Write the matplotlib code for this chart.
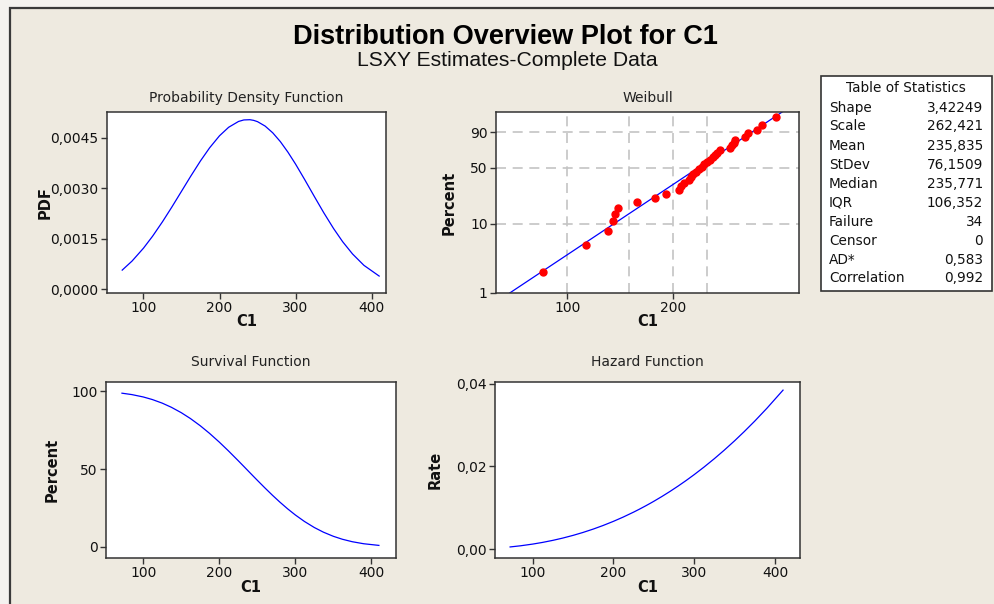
import numpy as np
import matplotlib
matplotlib.use("Agg")
import matplotlib.pyplot as plt
from matplotlib.patches import Rectangle
from matplotlib.ticker import FuncFormatter, NullLocator

# curve samples
c1_grid = [72, 85, 100, 112, 125, 137, 150, 162, 175, 187, 200, 212, 225, 232, 240,
           245, 250, 260, 270, 280, 290, 300, 312, 325, 337, 350, 362, 375, 390, 410]
pdf_vals = [0.000562, 0.000832, 0.001214, 0.001570, 0.001999, 0.002424, 0.002903,
            0.003346, 0.003807, 0.004195, 0.004552, 0.004804, 0.004977, 0.005022,
            0.005029, 0.005009, 0.004971, 0.004840, 0.004640, 0.004379, 0.004065,
            0.003712, 0.003252, 0.002738, 0.002271, 0.001798, 0.001405, 0.001041,
            0.000703, 0.000385]
surv_vals = [98.81, 97.91, 96.39, 94.72, 92.41, 89.75, 86.29, 82.54, 77.89, 73.08,
             67.39, 61.77, 55.40, 51.90, 47.87, 45.36, 42.87, 37.96, 33.21, 28.70,
             24.47, 20.58, 16.40, 12.50, 9.50, 6.86, 4.94, 3.36, 2.06, 1.00]
haz_vals = [0.000569, 0.000850, 0.001260, 0.001658, 0.002163, 0.002701, 0.003364,
            0.004054, 0.004887, 0.005739, 0.006754, 0.007778, 0.008984, 0.009677,
            0.010505, 0.011043, 0.011596, 0.012752, 0.013973, 0.015260, 0.016614,
            0.018036, 0.019834, 0.021896, 0.023906, 0.026200, 0.028433, 0.030966,
            0.034055, 0.038440]

# weibull probability plot points
c1_data = [85.0, 113.1, 131.0, 134.7, 136.8, 139.9, 158.5, 178.0, 191.0, 208.9,
           211.0, 214.5, 223.0, 225.6, 229.0, 232.6, 236.7, 242.0, 245.8, 250.0,
           255.7, 259.6, 264.0, 268.0, 273.0, 291.6, 294.8, 298.1, 301.3, 321.8,
           326.8, 347.5, 359.2, 394.7]
pct_data = [2.03, 4.94, 7.85, 10.76, 13.66, 16.57, 19.48, 22.38, 25.29, 28.20,
            31.10, 34.01, 36.92, 39.83, 42.73, 45.64, 48.55, 51.45, 54.36, 57.27,
            60.17, 63.08, 65.99, 68.90, 71.80, 74.71, 77.62, 80.52, 83.43, 86.34,
            89.24, 92.15, 95.06, 97.97]
fit_x = [68.5, 410.0]
fit_pct = [1.0, 99.0]

stat_names = ["Shape", "Scale", "Mean", "StDev", "Median", "IQR",
              "Failure", "Censor", "AD*", "Correlation"]
stat_values = ["3,42249", "262,421", "235,835", "76,1509", "235,771", "106,352",
               "34", "0", "0,583", "0,992"]

W, H = 995, 604
BG = "#EEEAE0"
BLUE = "#0000FF"
TXT = "#111111"

plt.rcParams["font.family"] = ["DejaVu Sans"]

fig = plt.figure(figsize=(W / 100, H / 100), dpi=100)
fig.patch.set_facecolor("#F4F2EF")
fig.patches.append(Rectangle((10 / W, -0.01), 1.02, 1 - 8 / H + 0.01,
                             transform=fig.transFigure, facecolor=BG,
                             edgecolor="#3a3a3a", lw=1.6, zorder=-5))


def px_axes(l, t, r, b):
    ax = fig.add_axes([l / W, 1 - b / H, (r - l) / W, (b - t) / H])
    ax.set_zorder(2)
    ax.set_facecolor("white")
    for s in ax.spines.values():
        s.set_color("#333333")
        s.set_linewidth(1.1)
    ax.tick_params(direction="out", length=4, width=1, color="#333333",
                   labelsize=10, labelcolor=TXT, pad=2)
    return ax


def comma(fmt):
    return FuncFormatter(lambda v, p: format(v, fmt).replace(".", ","))


def labels(ax, title, ylab, ty, yx, xy):
    ax.text(0.5, ty, title, transform=ax.transAxes, ha="center", va="center",
            fontsize=10, color="#222222")
    ax.set_xlabel("C1", fontsize=10.5, fontweight="bold", color=TXT, va="center")
    ax.set_ylabel(ylab, fontsize=10.5, fontweight="bold", color=TXT, va="center")
    ax.xaxis.set_label_coords(0.5, xy)
    ax.yaxis.set_label_coords(yx, 0.5)


# PDF
ax1 = px_axes(107, 112, 386, 293)
ax1.plot(c1_grid, pdf_vals, color=BLUE, lw=0.9)
ax1.set_xlim(52, 419)
ax1.set_ylim(-0.000118, 0.005258)
ax1.set_xticks([100, 200, 300, 400])
ax1.set_yticks([0, 0.0015, 0.003, 0.0045])
ax1.yaxis.set_major_formatter(comma(".4f"))
labels(ax1, "Probability Density Function", "PDF", 1.077, -0.222, -0.16)

# Weibull probability plot
ax2 = px_axes(496, 112, 799, 293)


def wfwd(p):
    p = np.clip(np.asarray(p, dtype=float), 1e-6, 99.9999)
    return np.log(-np.log(1 - p / 100))


def winv(t):
    return 100 * (1 - np.exp(-np.exp(t)))


ax2.set_xscale("log")
ax2.set_yscale("function", functions=(wfwd, winv))
ax2.set_xlim(62.6, 458)
ax2.set_ylim(1, 99)
for gx in [100, 150, 200, 250]:
    ax2.axvline(gx, color="#C4C4C4", lw=1.2, ls=(0, (6, 4)), zorder=1)
for gy in [10, 50, 90]:
    ax2.axhline(gy, color="#C4C4C4", lw=1.2, ls=(0, (6, 4)), zorder=1)
ax2.plot(fit_x, fit_pct, color=BLUE, lw=0.9, zorder=2)
ax2.plot(c1_data, pct_data, "o", color="#FF0000", ms=5, mec="#FF0000", zorder=3)
ax2.set_xticks([100, 200])
ax2.set_xticklabels(["100", "200"])
ax2.xaxis.set_minor_locator(NullLocator())
ax2.set_yticks([1, 10, 50, 90])
ax2.set_yticklabels(["1", "10", "50", "90"])
ax2.yaxis.set_minor_locator(NullLocator())
labels(ax2, "Weibull", "Percent", 1.077, -0.155, -0.16)

# Survival
ax3 = px_axes(106, 382, 396, 558)
ax3.plot(c1_grid, surv_vals, color=BLUE, lw=0.9)
ax3.set_xlim(51, 432.5)
ax3.set_ylim(-7.1, 106)
ax3.set_xticks([100, 200, 300, 400])
ax3.set_yticks([0, 50, 100])
labels(ax3, "Survival Function", "Percent", 1.114, -0.186, -0.165)

# Hazard
ax4 = px_axes(495, 382, 800, 558)
ax4.plot(c1_grid, haz_vals, color=BLUE, lw=0.9)
ax4.set_xlim(53.3, 431)
ax4.set_ylim(-0.0021, 0.0404)
ax4.set_xticks([100, 200, 300, 400])
ax4.set_yticks([0, 0.02, 0.04])
ax4.yaxis.set_major_formatter(comma(".2f"))
labels(ax4, "Hazard Function", "Rate", 1.114, -0.197, -0.165)

# titles
fig.text(505 / W, 1 - 37 / H, "Distribution Overview Plot for C1",
         ha="center", va="center", fontsize=19.5, fontweight="bold", color="black",
         family=["Liberation Sans Narrow", "Liberation Sans", "DejaVu Sans"])
fig.text(507 / W, 1 - 61 / H, "LSXY Estimates-Complete Data",
         ha="center", va="center", fontsize=15.2, color="#111111",
         family=["Liberation Sans", "DejaVu Sans"])

# table of statistics
fig.patches.append(Rectangle((821 / W, 1 - 291 / H), 171 / W, 215 / H,
                             transform=fig.transFigure, facecolor="white",
                             edgecolor="#333333", lw=1.2, zorder=1))
fig.text(906 / W, 1 - 88 / H, "Table of Statistics", ha="center", va="center",
         fontsize=9.8, color=TXT)
row_y = [108, 126, 146, 165, 184, 203, 222, 241, 260, 278]
for name, val, y in zip(stat_names, stat_values, row_y):
    fig.text(829 / W, 1 - y / H, name, ha="left", va="center", fontsize=9.8, color=TXT)
    fig.text(983 / W, 1 - y / H, val, ha="right", va="center", fontsize=9.8, color=TXT)

fig.savefig("out.png", dpi=100, facecolor=fig.get_facecolor())
